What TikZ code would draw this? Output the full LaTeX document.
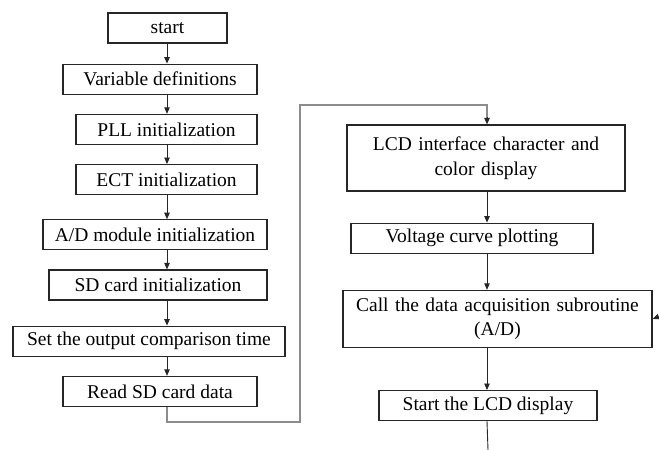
\documentclass[tikz,border=0pt]{standalone}
\usepackage{fontspec}
\setmainfont{Liberation Serif}
\usepackage{tikz}
\usetikzlibrary{positioning,calc,arrows.meta}
\tikzset{
  flowBox/.style={
    rectangle,
    draw=black!85,
    line width=1.2pt,
    minimum height=30pt,
    inner sep=2pt,
    align=center
  },
  arrowLine/.style={
    -{Triangle[length=6.5pt,width=5.5pt]},
    line width=0.9pt,
    draw=black!85
  },
  loopLine/.style={
    line width=1.1pt,
    draw=black!45
  }
}

\begin{document}
\begin{tikzpicture}[
            x=1pt, y=-1pt,
            every node/.style={font=\fontsize{19.5}{24.5}\selectfont}
        ]
        \useasboundingbox (0,0) rectangle (659,450);
        \coordinate (lcol) at (167,0);
        \coordinate (rcol) at (487,0);

        % left column
        \node[flowBox, minimum width=119pt] (start) at (167.5,28) {start};
        \node[flowBox, minimum width=194pt, below=20pt of start, xshift=-7.5pt] (varDef) {Variable definitions};
        \node[flowBox, minimum width=181pt, below=19pt of varDef, xshift=6.5pt] (pllInit) {PLL initialization};
        \node[flowBox, minimum width=181pt, below=19pt of pllInit] (ectInit) {ECT initialization};
        \node[flowBox, minimum width=224pt, below=24pt of ectInit, xshift=-11.5pt] (adInit) {A/D module initialization};
        \node[flowBox, minimum width=218pt, below=19pt of adInit, xshift=3pt] (sdInit) {SD card initialization};
        \node[flowBox, minimum width=272pt, below=25pt of sdInit, xshift=-9pt] (setOc) {Set the output comparison time};
        \node[flowBox, minimum width=194pt, below=19pt of setOc, xshift=11pt] (readSd) {Read SD card data};

        % right column
        \node[flowBox, minimum width=278pt, minimum height=66pt, text width=270pt] (lcdShow) at (486,158) {LCD interface character and\\color display};
        \node[flowBox, minimum width=242pt, below=31pt of lcdShow, xshift=-14pt] (voltPlot) {Voltage curve plotting};
        \node[flowBox, minimum width=309pt, minimum height=57pt, text width=300pt, below=36pt of voltPlot, xshift=25.5pt] (callAd) {Call the data acquisition subroutine\\(A/D)};
        \node[flowBox, minimum width=218pt, below=42pt of callAd, xshift=-9.5pt] (startLcd) {Start the LCD display};

        \coordinate (loopBot) at (300,422);
        \coordinate (loopTop) at (300,105);
        \coordinate (exitPt) at (488,450);
        \coordinate (feedIn) at (659,316.5);

        \foreach \a/\b in {start/varDef, varDef/pllInit, pllInit/ectInit, ectInit/adInit,
                           adInit/sdInit, sdInit/setOc, setOc/readSd}
          \draw[arrowLine] (\a.south -| lcol) -- (\b.north -| lcol);
        \foreach \a/\b in {lcdShow/voltPlot, voltPlot/callAd, callAd/startLcd}
          \draw[arrowLine] (\a.south -| rcol) -- (\b.north -| rcol);

        \draw[loopLine] (readSd.south -| lcol) |- (loopBot) -- (loopTop) -| ($(lcdShow.north -| rcol)+(0,-6)$);
        \draw[arrowLine] ($(lcdShow.north -| rcol)+(0,-7)$) -- (lcdShow.north -| rcol);
        \draw[arrowLine, -] (startLcd.south -| rcol) -- (exitPt);
        \draw[arrowLine] (feedIn) -- (callAd.east);

    \end{tikzpicture}
\end{document}
